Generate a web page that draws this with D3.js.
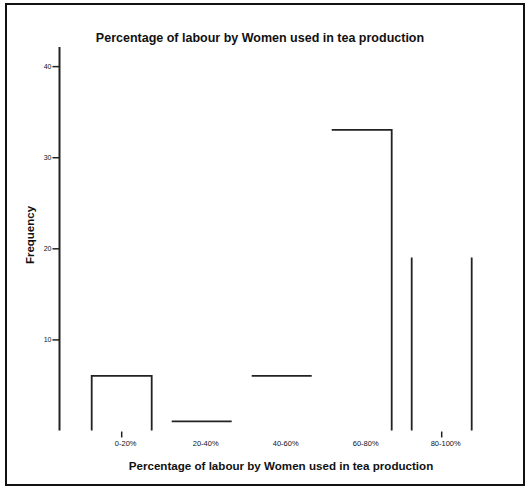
<!DOCTYPE html>
<html>
<head>
<meta charset="utf-8">
<script src="https://cdn.jsdelivr.net/npm/d3@7"></script>
<style>
  html, body { margin: 0; padding: 0; background: #fff; }
  svg { display: block; font-family: "Liberation Sans", Arial, sans-serif; }
</style>
</head>
<body>
<svg id="chart" width="526" height="487"></svg>
<script>
// Data
const categories = ["0-20%", "20-40%", "40-60%", "60-80%", "80-100%"];
const frequency = [6, 1, 6, 33, 19];
const yTicks = [10, 20, 30, 40];
// which outline edges are visible in the reference: [left, top, right]
const edges = [[1,1,1],[0,1,0],[0,1,0],[0,1,1],[1,0,1]];
const tickedCategories = ["0-20%", "80-100%"];

const svg = d3.select("#chart");

// frame
svg.append("rect").attr("x", 6).attr("y", 4).attr("width", 518).attr("height", 481)
  .attr("fill", "none").attr("stroke", "#111").attr("stroke-width", 2);

const x = d3.scaleBand().domain(categories).range([71.7, 491.7]).padding(0.25);
const y = d3.scaleLinear().domain([0, 42.1]).range([430.5, 47]);

// y axis
const yAxis = svg.append("g").attr("transform", "translate(59.5,0)")
  .call(d3.axisLeft(y).tickValues(yTicks).tickSize(7).tickFormat(d3.format("d")));
yAxis.select(".domain").attr("d", `M0,${y(0)}V${y.range()[1]}`).attr("stroke", "#222").attr("stroke-width", 2);
yAxis.selectAll(".tick line").attr("stroke", "#222").attr("stroke-width", 1.5);
yAxis.selectAll(".tick text").attr("font-size", 7).attr("fill", "#111").attr("x", -8);

// x axis labels and ticks
const xg = svg.append("g").attr("transform", `translate(0,${y(0)})`);
xg.selectAll("line.tk").data(tickedCategories).join("line")
  .attr("x1", d => x(d) + x.bandwidth()/2).attr("x2", d => x(d) + x.bandwidth()/2)
  .attr("y1", 1).attr("y2", 7).attr("stroke", "#222").attr("stroke-width", 1.5);
xg.selectAll("text").data(categories).join("text")
  .attr("x", d => x(d) + x.bandwidth()/2 + 4).attr("y", 15)
  .attr("text-anchor", "middle").attr("font-size", 7.5).attr("fill", "#111")
  .text(d => d);

// bars as partial outlines
const bars = categories.map((c, i) => ({c, v: frequency[i], e: edges[i]}));
svg.append("g").selectAll("path").data(bars).join("path")
  .attr("fill", "none").attr("stroke", "#222").attr("stroke-width", 1.8)
  .attr("d", d => {
    const x0 = x(d.c), x1 = x(d.c) + x.bandwidth(), y0 = y(0), yt = y(d.v);
    if (d.e[0] && d.e[1] && d.e[2]) return `M${x0},${y0}V${yt}H${x1}V${y0}`;
    if (d.e[1] && d.e[2]) return `M${x0},${yt}H${x1}V${y0}`;
    let p = "";
    if (d.e[0]) p += `M${x0},${y0}V${yt}`;
    if (d.e[1]) p += `M${x0},${yt}H${x1}`;
    if (d.e[2]) p += `M${x1},${y0}V${yt}`;
    return p;
  });

// titles
svg.append("text").attr("x", 260).attr("y", 42).attr("text-anchor", "middle")
  .attr("font-size", 12.5).attr("font-weight", "bold").attr("fill", "#111")
  .text("Percentage of labour by Women used in tea production");
svg.append("text").attr("x", 281).attr("y", 470).attr("text-anchor", "middle")
  .attr("font-size", 11.6).attr("font-weight", "bold").attr("fill", "#111")
  .text("Percentage of labour by Women used in tea production");
svg.append("text").attr("transform", "translate(34,235) rotate(-90)")
  .attr("text-anchor", "middle").attr("font-size", 11.5).attr("font-weight", "bold").attr("fill", "#111")
  .text("Frequency");
</script>
</body>
</html>
